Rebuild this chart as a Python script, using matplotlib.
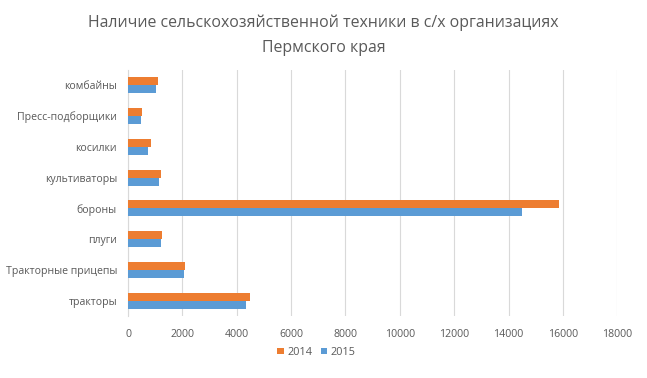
import numpy as np
import matplotlib
matplotlib.use('Agg')
import matplotlib.pyplot as plt

plt.rcParams['font.family'] = ['Open Sans', 'DejaVu Sans']

# categories listed bottom -> top as in the picture
categories = ['тракторы', 'Тракторные прицепы', 'плуги', 'бороны',
              'культиваторы', 'косилки', 'Пресс-подборщики', 'комбайны']
vals_2014 = [4490, 2100, 1250, 15850, 1215, 850, 520, 1100]
vals_2015 = [4340, 2060, 1215, 14500, 1140, 735, 480, 1030]
xticks = [0, 2000, 4000, 6000, 8000, 10000, 12000, 14000, 16000, 18000]

c2014 = '#ED7D31'
c2015 = '#5B9BD5'
grey = '#595959'

fig = plt.figure(figsize=(6.47, 3.78), dpi=100)
ax = fig.add_axes([0.198, 0.164, 0.756, 0.651])

y = np.arange(len(categories))
h = 0.26
ax.barh(y + h / 2, vals_2014, height=h, color=c2014, label='2014', zorder=3)
ax.barh(y - h / 2, vals_2015, height=h, color=c2015, label='2015', zorder=3)

ax.set_yticks(y)
ax.set_yticklabels(categories, fontsize=7.6, color=grey)
ax.set_xticks(xticks)
ax.set_xticklabels([str(v) for v in xticks], fontsize=7.6, color=grey)
ax.set_xlim(0, 18000)
ax.set_ylim(-0.5, len(categories) - 0.5)
ax.tick_params(axis='x', length=0, pad=9)
ax.tick_params(axis='y', length=0, pad=8)
ax.grid(axis='x', color='#D9D9D9', linewidth=0.8, zorder=0)
for s in ['top', 'right', 'bottom']:
    ax.spines[s].set_visible(False)
ax.spines['left'].set_color('#D9D9D9')

fig.text(0.5, 0.94, 'Наличие сельскохозяйственной техники в с/х организациях',
         ha='center', va='center', fontsize=11.4, color=grey)
fig.text(0.5, 0.873, 'Пермского края',
         ha='center', va='center', fontsize=11.4, color=grey)

fig.legend(loc='center', bbox_to_anchor=(0.489, 0.068), ncol=2, frameon=False,
           fontsize=7.8, handlelength=0.6, handleheight=0.6, handletextpad=0.3,
           columnspacing=0.8, labelcolor=grey)

fig.savefig('out.png', dpi=100)
